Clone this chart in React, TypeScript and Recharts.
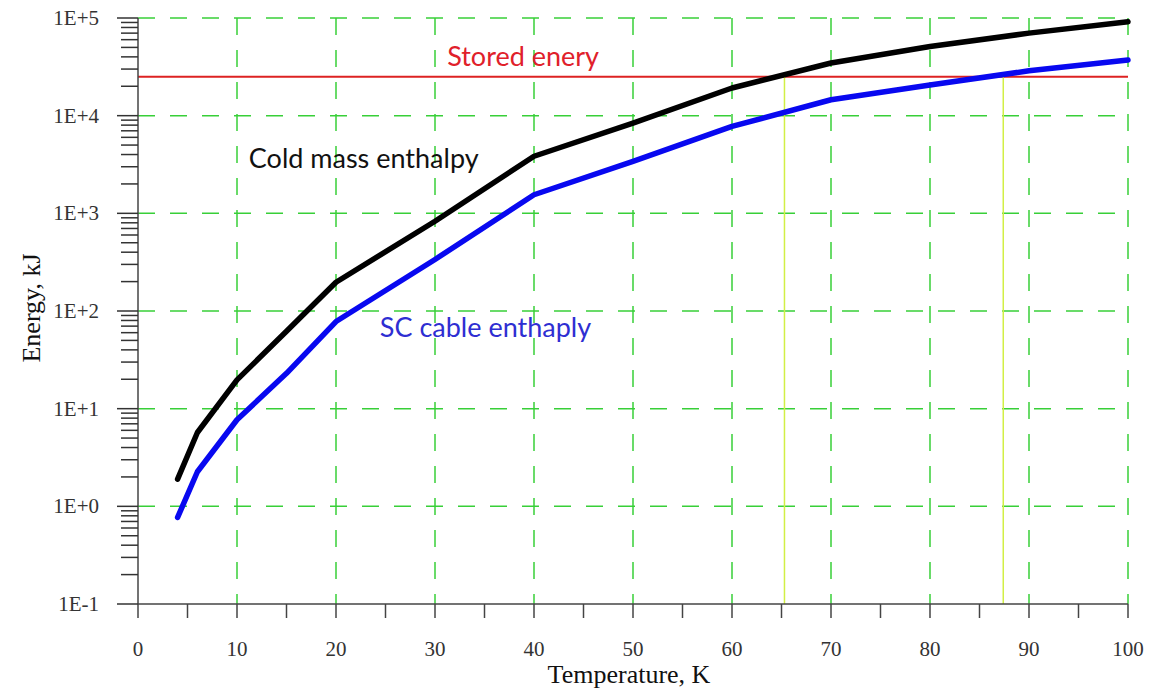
import React from "react";
import {
  LineChart,
  Line,
  XAxis,
  YAxis,
  CartesianGrid,
  ReferenceLine,
  ReferenceDot,
} from "recharts";

// temperature, K
const temps = [4, 6, 10, 15, 20, 30, 40, 50, 60, 70, 80, 90, 100];
// energy, kJ
const coldMass = [1.9, 5.7, 19.7, 62, 197, 830, 3840, 8400, 19200, 34600, 51000, 70000, 91600];
const scCable = [0.77, 2.26, 7.7, 23, 78, 337, 1550, 3400, 7760, 14550, 20560, 28800, 37100];

const storedEnergy = 25000;
// where the enthalpy curves reach the stored energy
const crossings = [65.3, 87.4];

const xTicks = [0, 5, 10, 15, 20, 25, 30, 35, 40, 45, 50, 55, 60, 65, 70, 75, 80, 85, 90, 95, 100];
const xGrid = [10, 20, 30, 40, 50, 60, 70, 80, 90, 100];
const yMajor = [0.1, 1, 10, 100, 1000, 10000, 100000];
const yLabels = ["1E-1", "1E+0", "1E+1", "1E+2", "1E+3", "1E+4", "1E+5"];

// minor log ticks 2..9 inside each decade
const yTicks: number[] = [];
yMajor.forEach((d, i) => {
  yTicks.push(d);
  if (i < yMajor.length - 1) {
    for (let m = 2; m <= 9; m++) yTicks.push(m * d);
  }
});

const data = temps.map((t, i) => ({ t, cold: coldMass[i], sc: scCable[i] }));

const serif = "'Liberation Serif', 'Times New Roman', serif";
const sans = "Lato, 'Open Sans', sans-serif";

function YTick(props: any) {
  const { x, y, payload } = props;
  const idx = yMajor.findIndex((m) => Math.abs(m - payload.value) < m * 1e-6);
  const major = idx >= 0;
  return (
    <g>
      <line x1={x - (major ? 21 : 17)} x2={x} y1={y} y2={y} stroke="#333" strokeWidth={1.5} />
      {major && (
        <text
          x={x - 39}
          y={y}
          textAnchor="end"
          dominantBaseline="central"
          fontFamily={serif}
          fontSize={21}
          fill="#333"
        >
          {yLabels[idx]}
        </text>
      )}
    </g>
  );
}

function AnnText(text: string, color: string) {
  return (props: any) => (
    <text
      x={props.cx}
      y={props.cy}
      textAnchor="middle"
      fontFamily={sans}
      fontSize={27}
      fill={color}
    >
      {text}
    </text>
  );
}

export default function App() {
  return (
    <div style={{ position: "absolute", left: 0, top: 0, background: "#fff" }}>
      <LineChart
        width={1155}
        height={692}
        data={data}
        margin={{ top: 18, right: 27, bottom: 0, left: 0 }}
      >
        <CartesianGrid
          stroke="#38cf38"
          strokeWidth={1.5}
          strokeDasharray="17 15"
          horizontalValues={yMajor.slice(1)}
          verticalValues={xGrid}
        />
        <XAxis
          dataKey="t"
          type="number"
          domain={[0, 100]}
          ticks={xTicks}
          interval={0}
          height={88}
          tickSize={14}
          tickMargin={23}
          tickFormatter={(v: number) => (v % 10 === 0 ? String(v) : "")}
          tick={{ fontFamily: serif, fontSize: 21, fill: "#333" }}
          stroke="#444"
          strokeWidth={1.5}
          label={{
            content: () => (
              <text x={629} y={683} textAnchor="middle" fontFamily={serif} fontSize={26} fill="#111">
                Temperature, K
              </text>
            ),
          }}
        />
        <YAxis
          type="number"
          scale="log"
          domain={[0.1, 100000]}
          allowDataOverflow
          ticks={yTicks}
          interval={0}
          width={138}
          tickSize={0}
          tickMargin={0}
          tickLine={false}
          tick={<YTick />}
          stroke="#444"
          strokeWidth={1.5}
          label={{
            content: () => (
              <text
                x={31}
                y={308}
                transform="rotate(-90, 31, 308)"
                textAnchor="middle"
                dominantBaseline="central"
                fontFamily={serif}
                fontSize={26}
                fill="#111"
              >
                Energy, kJ
              </text>
            ),
          }}
        />
        <ReferenceLine y={storedEnergy} stroke="#dd2222" strokeWidth={2} />
        {crossings.map((c) => (
          <ReferenceLine
            key={c}
            segment={[
              { x: c, y: 0.1 },
              { x: c, y: storedEnergy },
            ]}
            stroke="#d2ef45"
            strokeWidth={1.5}
          />
        ))}
        <Line
          dataKey="cold"
          type="linear"
          stroke="#000"
          strokeWidth={5.5}
          strokeLinecap="round"
          strokeLinejoin="round"
          dot={false}
          isAnimationActive={false}
        />
        <Line
          dataKey="sc"
          type="linear"
          stroke="#0808f0"
          strokeWidth={5.5}
          strokeLinecap="round"
          strokeLinejoin="round"
          dot={false}
          isAnimationActive={false}
        />
        <ReferenceDot x={38.9} y={32400} r={0} shape={AnnText("Stored enery", "#e0202a")} />
        <ReferenceDot x={22.8} y={2946} r={0} shape={AnnText("Cold mass enthalpy", "#111")} />
        <ReferenceDot x={35.1} y={54.7} r={0} shape={AnnText("SC cable enthaply", "#2e2ed2")} />
      </LineChart>
    </div>
  );
}
